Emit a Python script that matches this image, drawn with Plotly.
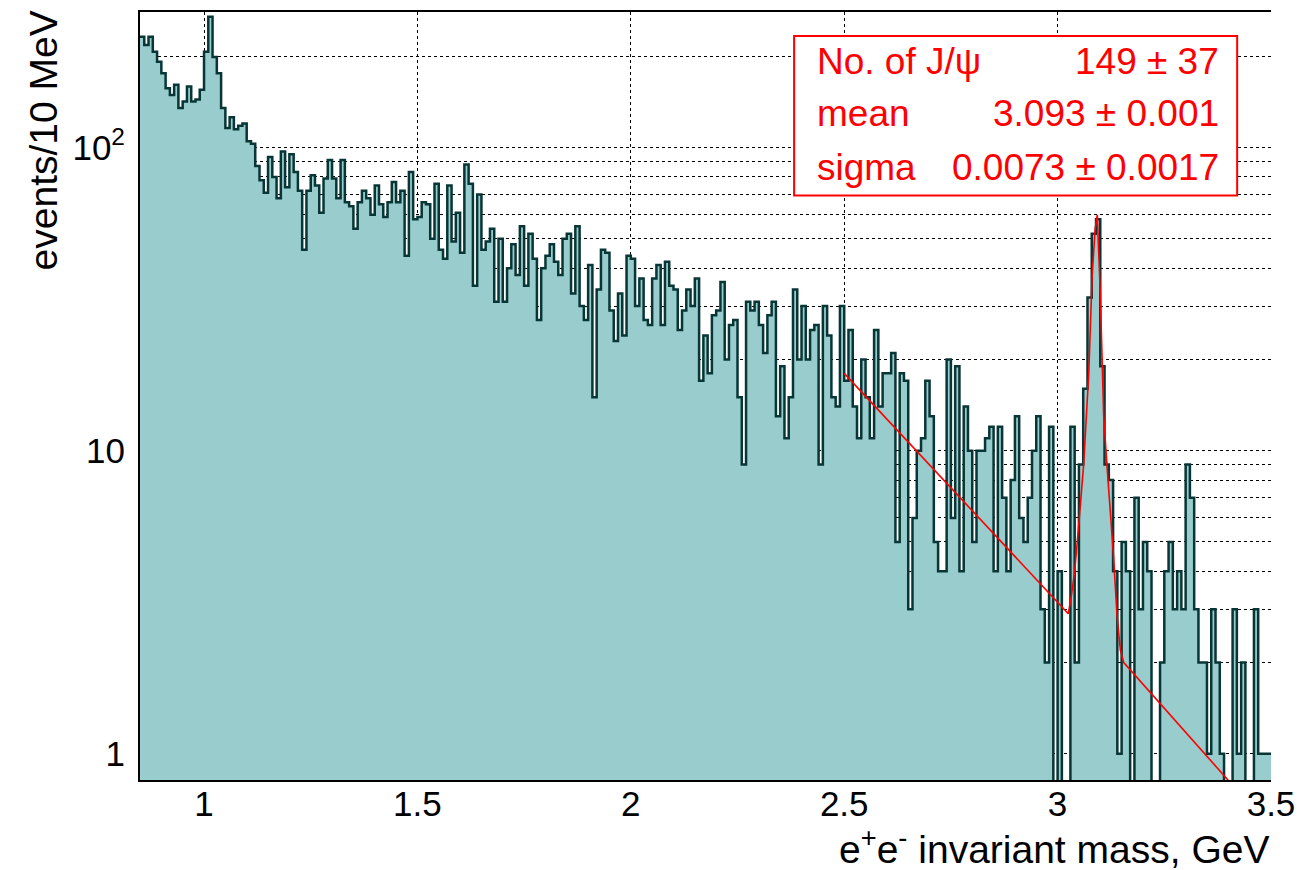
import numpy as np
import plotly.graph_objects as go

# ---------------- data ----------------
bin_low = 0.85
bin_width = 0.01
counts = [
    232, 218, 232, 207, 192, 176, 157, 149, 161, 135,
    142, 159, 142, 144, 155, 207, 270, 199, 176, 135,
    116, 126, 115, 118, 120, 105, 103, 87, 78, 71,
    93, 80, 68, 97, 74, 95, 83, 72, 46, 72,
    81, 75, 61, 79, 91, 79, 68, 91, 66, 64,
    54, 66, 72, 68, 60, 75, 65, 59, 66, 77,
    66, 72, 44, 83, 58, 59, 66, 65, 50, 76,
    46, 43, 75, 49, 61, 45, 88, 76, 35, 70,
    46, 49, 54, 31, 50, 31, 40, 48, 38, 55,
    35, 52, 43, 27, 40, 44, 48, 42, 38, 50,
    52, 33, 55, 30, 27, 41, 15, 34, 46, 45,
    29, 23, 33, 24, 44, 43, 30, 37, 27, 26,
    37, 41, 26, 42, 35, 34, 25, 29, 34, 30,
    37, 17, 24, 18, 28, 29, 36, 20, 26, 27,
    15, 9, 31, 29, 31, 26, 21, 28, 31, 13,
    19, 11, 15, 34, 20, 30, 20, 25, 26, 9,
    30, 24, 15, 14, 30, 17, 25, 14, 11, 20,
    15, 11, 25, 14, 18, 18, 21, 5, 18, 17,
    3, 6, 10, 11, 17, 13, 5, 4, 4, 20,
    6, 19, 4, 14, 10, 5, 10, 10, 11, 12,
    4, 12, 7, 4, 8, 13, 6, 5, 7, 10,
    13, 3, 2, 12, 0, 4, 0, 0, 12, 2,
    9, 16, 32, 52, 58, 19, 9, 8, 4, 1,
    5, 4, 0, 7, 3, 5, 4, 0, 0, 2,
    4, 5, 3, 4, 3, 9, 7, 3, 2, 2,
    1, 3, 2, 1, 0, 0, 3, 1, 2, 0,
    0, 3, 1, 1, 1,
]

fit_mass = [2.500, 3.025, 3.032, 3.040, 3.050, 3.061, 3.073, 3.081, 3.088, 3.093,
            3.100, 3.108, 3.116, 3.124, 3.131, 3.139, 3.147, 3.155, 3.400, 3.420]
fit_val = [18.0, 2.9, 3.3, 4.0, 5.8, 9.0, 18.0, 38.0, 54.0, 60.0,
           33.0, 13.0, 8.8, 6.3, 4.5, 2.9, 2.2, 2.0, 0.82, 0.76]

x_tick_vals = [1, 1.5, 2, 2.5, 3, 3.5]
x_tick_text = ["1", "1.5", "2", "2.5", "3", "3.5"]
y_grid_vals = [1, 2, 3, 4, 5, 6, 7, 8, 9, 10, 20, 30, 40, 50, 60, 70, 80, 90, 100, 200]
y_label_map = {1: "1", 10: "10", 100: "10<sup>2</sup>"}

legend_labels = ["No. of J/\u03c8", "mean", "sigma"]
legend_values = ["149 \u00b1 37", "3.093 \u00b1 0.001", "0.0073 \u00b1 0.0017"]

x_title = "e<sup>+</sup>e<sup>-</sup> invariant mass, GeV"
y_title = "events/10 MeV"

# ---------------- build ----------------
counts_arr = np.array(counts, dtype=float)
edges = bin_low + bin_width * np.arange(len(counts_arr) + 1)
floor = 0.5  # below the visible range, used for empty bins / bottom of fill
vals = np.where(counts_arr > 0, counts_arr, floor)

xs = np.repeat(edges, 2)[1:-1]
ys = np.repeat(vals, 2)

fill_x = np.concatenate([[edges[0]], xs, [edges[-1]]])
fill_y = np.concatenate([[floor], ys, [floor]])

FILL = "#99cccc"
EDGE = "#083636"
FONT = "Liberation Sans, Arial, sans-serif"

fig = go.Figure()
fig.add_trace(go.Scatter(x=fill_x, y=fill_y, mode="lines", fill="toself",
                         fillcolor=FILL, line=dict(width=0), hoverinfo="skip",
                         showlegend=False))
fig.add_trace(go.Scatter(x=xs, y=ys, mode="lines", line=dict(color=EDGE, width=2.5),
                         showlegend=False))
fig.add_trace(go.Scatter(x=fit_mass, y=fit_val, mode="lines",
                         line=dict(color="#ff0000", width=1.6), showlegend=False))

L, R, T, B = 140, 29, 10, 90
W, H = 1305, 870
pw, ph = W - L - R, H - T - B

def px_x(p):
    return (p - L) / pw

def px_y(p):
    return (H - B - p) / ph

fig.update_layout(
    width=W, height=H,
    margin=dict(l=L, r=R, t=T, b=B, pad=0),
    paper_bgcolor="white", plot_bgcolor="white",
    font=dict(family=FONT, color="black", size=34),
    xaxis=dict(range=[0.85, 3.5], tickvals=x_tick_vals, ticktext=x_tick_text,
               showgrid=True, gridcolor="black", griddash="dot", gridwidth=1,
               showline=True, linecolor="black", linewidth=2, mirror=True,
               ticks="", zeroline=False, tickfont=dict(size=35, family=FONT),
               ticklabelstandoff=-8),
    yaxis=dict(type="log", range=[np.log10(0.82), np.log10(280)],
               tickvals=y_grid_vals,
               ticktext=[y_label_map.get(v, "") for v in y_grid_vals],
               showgrid=True, gridcolor="black", griddash="dot", gridwidth=1,
               showline=True, linecolor="black", linewidth=2, mirror=False,
               ticks="", zeroline=False, tickfont=dict(size=35, family=FONT),
               ticklabelstandoff=6),
)

# legend box
fig.add_shape(type="rect", xref="paper", yref="paper",
              x0=px_x(797), x1=px_x(1242), y0=px_y(194), y1=px_y(34),
              line=dict(color="#ff0000", width=2), fillcolor="white", layer="above")

row_y = [60, 112, 166]
for lab, val, yy in zip(legend_labels, legend_values, row_y):
    fig.add_annotation(xref="paper", yref="paper", x=px_x(818), y=px_y(yy),
                       xanchor="left", yanchor="middle", text=lab, showarrow=False,
                       font=dict(size=37, color="#ff0000", family=FONT))
    fig.add_annotation(xref="paper", yref="paper", x=px_x(1226), y=px_y(yy),
                       xanchor="right", yanchor="middle", text=val, showarrow=False,
                       font=dict(size=37, color="#ff0000", family=FONT))

fig.add_annotation(xref="paper", yref="paper", x=1.0, y=px_y(847),
                   xanchor="right", yanchor="middle", text=x_title, showarrow=False,
                   font=dict(size=39, family=FONT))
fig.add_annotation(xref="paper", yref="paper", x=px_x(43), y=px_y(6),
                   xanchor="center", yanchor="top", text=y_title, textangle=-90,
                   showarrow=False, font=dict(size=39, family=FONT))

fig.write_html("out.html")
